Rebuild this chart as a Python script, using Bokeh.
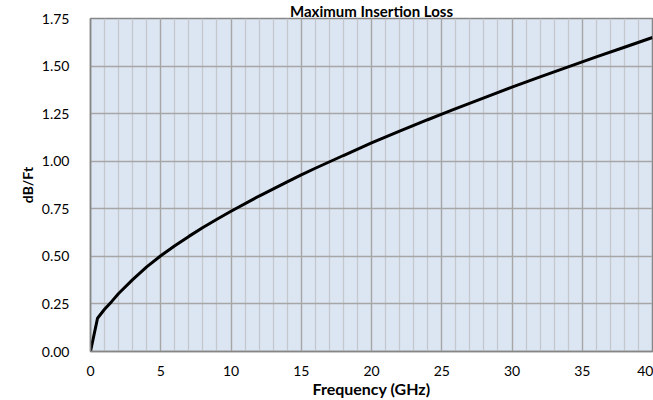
from bokeh.plotting import figure
from bokeh.models import Range1d, FixedTicker
from bokeh.embed import file_html
from bokeh.resources import INLINE

# Data
freq_ghz = [0, 0.5, 1, 1.5, 2, 3, 4, 5, 6, 7, 8, 9, 10, 12, 14, 15, 16, 18,
            20, 22, 24, 25, 26, 28, 30, 32, 34, 35, 36, 38, 40]
loss_db_ft = [0.00, 0.175, 0.222, 0.262, 0.305, 0.378, 0.445, 0.503, 0.556,
              0.605, 0.652, 0.695, 0.737, 0.817, 0.891, 0.928, 0.963, 1.030,
              1.096, 1.158, 1.218, 1.247, 1.276, 1.333, 1.389, 1.443, 1.496,
              1.522, 1.548, 1.599, 1.650]
x_ticks = [0, 5, 10, 15, 20, 25, 30, 35, 40]
y_ticks = [0.0, 0.25, 0.5, 0.75, 1.0, 1.25, 1.5, 1.75]
y_tick_labels = ["0.00", "0.25", "0.50", "0.75", "1.00", "1.25", "1.50", "1.75"]
title_text = "Maximum Insertion Loss"
x_label = "Frequency (GHz)"
y_label = "dB/Ft"

FONT = "Lato"

p = figure(width=653, height=400, output_backend="svg", toolbar_location=None,
           x_range=Range1d(0, 40), y_range=Range1d(0, 1.75),
           title=title_text,
           min_border_left=90, min_border_right=1, min_border_top=0,
           min_border_bottom=40)
p.background_fill_color = "#dce6f2"
p.border_fill_color = "white"
p.outline_line_color = "#868686"
p.outline_line_width = 1.5

p.title.text_font = FONT
p.title.text_font_style = "bold"
p.title.text_font_size = "15px"
p.title.text_color = "black"
p.title.align = "center"
p.title.standoff = -2
p.title.offset = 0

# axes
p.xaxis.ticker = FixedTicker(ticks=x_ticks, minor_ticks=list(range(0, 41)))
p.yaxis.ticker = FixedTicker(ticks=y_ticks)
p.yaxis.major_label_overrides = {t: l for t, l in zip(y_ticks, y_tick_labels)}
for ax in (p.xaxis, p.yaxis):
    ax.major_tick_line_color = None
    ax.minor_tick_line_color = None
    ax.axis_line_color = "#868686"
    ax.axis_line_width = 1.5
    ax.major_label_text_font = FONT
    ax.major_label_text_font_size = "14px"
    ax.major_label_text_color = "#000000"
    ax.axis_label_text_font = FONT
    ax.axis_label_text_font_style = "bold"
    ax.axis_label_text_color = "#000000"
p.xaxis.major_label_standoff = 8
p.yaxis.major_label_standoff = 15
p.xaxis.axis_label = x_label
p.xaxis.axis_label_text_font_size = "16px"
p.xaxis.axis_label_standoff = 0
p.yaxis.axis_label = y_label
p.yaxis.axis_label_text_font_size = "14px"
p.yaxis.axis_label_standoff = 3

# grid
p.xgrid.grid_line_color = "#a6a6a6"
p.xgrid.grid_line_width = 1.3
p.xgrid.minor_grid_line_color = "#c4c8cc"
p.xgrid.minor_grid_line_width = 1.3
p.ygrid.grid_line_color = "#a6a6a6"
p.ygrid.grid_line_width = 1.3

p.line(freq_ghz, loss_db_ft, line_color="black", line_width=3)

open("out.html", "w").write(file_html(p, INLINE))
